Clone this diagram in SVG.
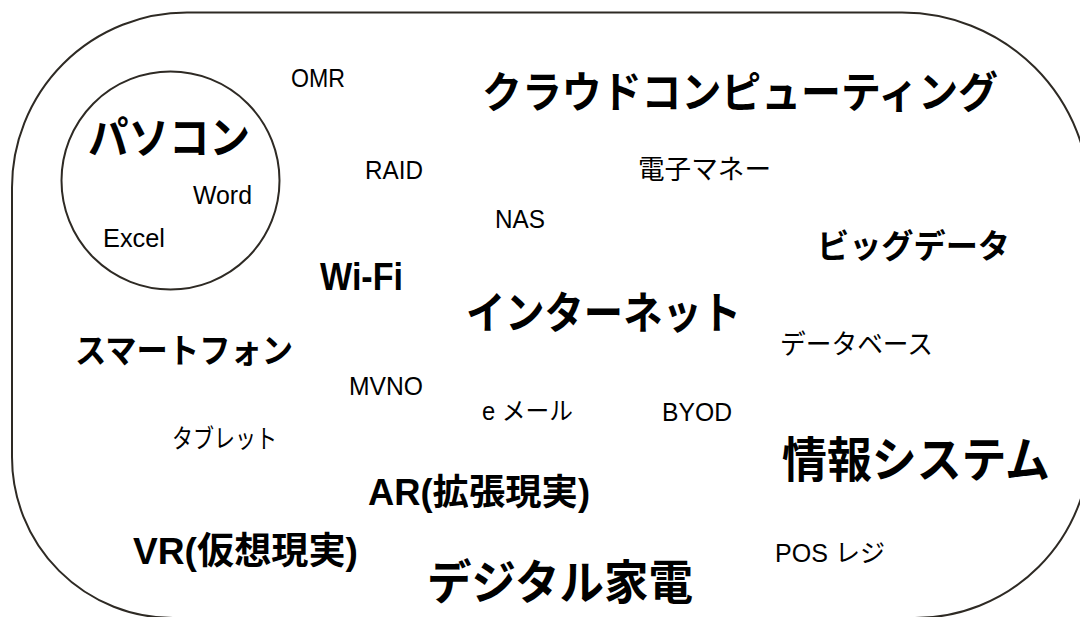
<svg xmlns="http://www.w3.org/2000/svg" width="1081" height="617" viewBox="0 0 1081 617">
<style>
.frame{fill:none;stroke:#2e2a24;stroke-width:2}
text{font-family:"Liberation Sans","Noto Sans CJK JP",sans-serif;fill:#000}
.s{font-size:25px}
.b{font-weight:bold}
</style>
<defs>
<clipPath id="view"><rect x="0" y="0" width="1080" height="617"/></clipPath>
</defs>
<rect width="1081" height="617" fill="#fff"/>
<g id="outer" clip-path="url(#view)">
<path class="frame" d="M187,12.5 H902 A188,188 0 0 1 1090,200.5 V443 A175,175 0 0 1 915,618 H173 A161,161 0 0 1 12,457 V187.5 A175,175 0 0 1 187,12.5 Z"/>
</g>
<g id="pc">
<circle class="frame" cx="170.5" cy="180.5" r="109"/>
<text class="b" x="88" y="154" font-size="44" textLength="162" lengthAdjust="spacingAndGlyphs">パソコン</text>
<text class="s" x="193" y="204" textLength="59" lengthAdjust="spacingAndGlyphs">Word</text>
<text class="s" x="103" y="247" textLength="62" lengthAdjust="spacingAndGlyphs">Excel</text>
</g>
<g id="terms">
<text class="s" x="291" y="87" textLength="54" lengthAdjust="spacingAndGlyphs">OMR</text>
<text class="s" x="365" y="179" textLength="58" lengthAdjust="spacingAndGlyphs">RAID</text>
<text class="s" x="495" y="228" textLength="50" lengthAdjust="spacingAndGlyphs">NAS</text>
<text class="s" x="349" y="395" textLength="74" lengthAdjust="spacingAndGlyphs">MVNO</text>
<text class="s" x="662" y="421" textLength="70" lengthAdjust="spacingAndGlyphs">BYOD</text>
<text class="s" x="482" y="420" textLength="91" lengthAdjust="spacingAndGlyphs">e メール</text>
<text class="s" x="775" y="562" textLength="110" lengthAdjust="spacingAndGlyphs">POS レジ</text>
<text x="638" y="179" font-size="27" textLength="133" lengthAdjust="spacingAndGlyphs">電子マネー</text>
<text x="780" y="354" font-size="27" textLength="153" lengthAdjust="spacingAndGlyphs">データベース</text>
<text x="172" y="448" font-size="26" textLength="105" lengthAdjust="spacingAndGlyphs">タブレット</text>
</g>
<g id="main">
<text class="b" x="482" y="108" font-size="43" textLength="516" lengthAdjust="spacingAndGlyphs">クラウドコンピューティング</text>
<text class="b" x="817" y="258" font-size="33" textLength="193" lengthAdjust="spacingAndGlyphs">ビッグデータ</text>
<text class="b" x="320" y="290" font-size="38" textLength="83" lengthAdjust="spacingAndGlyphs">Wi-Fi</text>
<text class="b" x="466" y="329" font-size="44" textLength="275" lengthAdjust="spacingAndGlyphs">インターネット</text>
<text class="b" x="75" y="363" font-size="34" textLength="218" lengthAdjust="spacingAndGlyphs">スマートフォン</text>
<text class="b" x="782" y="477" font-size="48" textLength="268" lengthAdjust="spacingAndGlyphs">情報システム</text>
<text class="b" x="368" y="505" font-size="36" textLength="222" lengthAdjust="spacingAndGlyphs">AR(拡張現実)</text>
<text class="b" x="133" y="564" font-size="37" textLength="225" lengthAdjust="spacingAndGlyphs">VR(仮想現実)</text>
<text class="b" x="427" y="599" font-size="47" textLength="266" lengthAdjust="spacingAndGlyphs">デジタル家電</text>
</g>
</svg>
